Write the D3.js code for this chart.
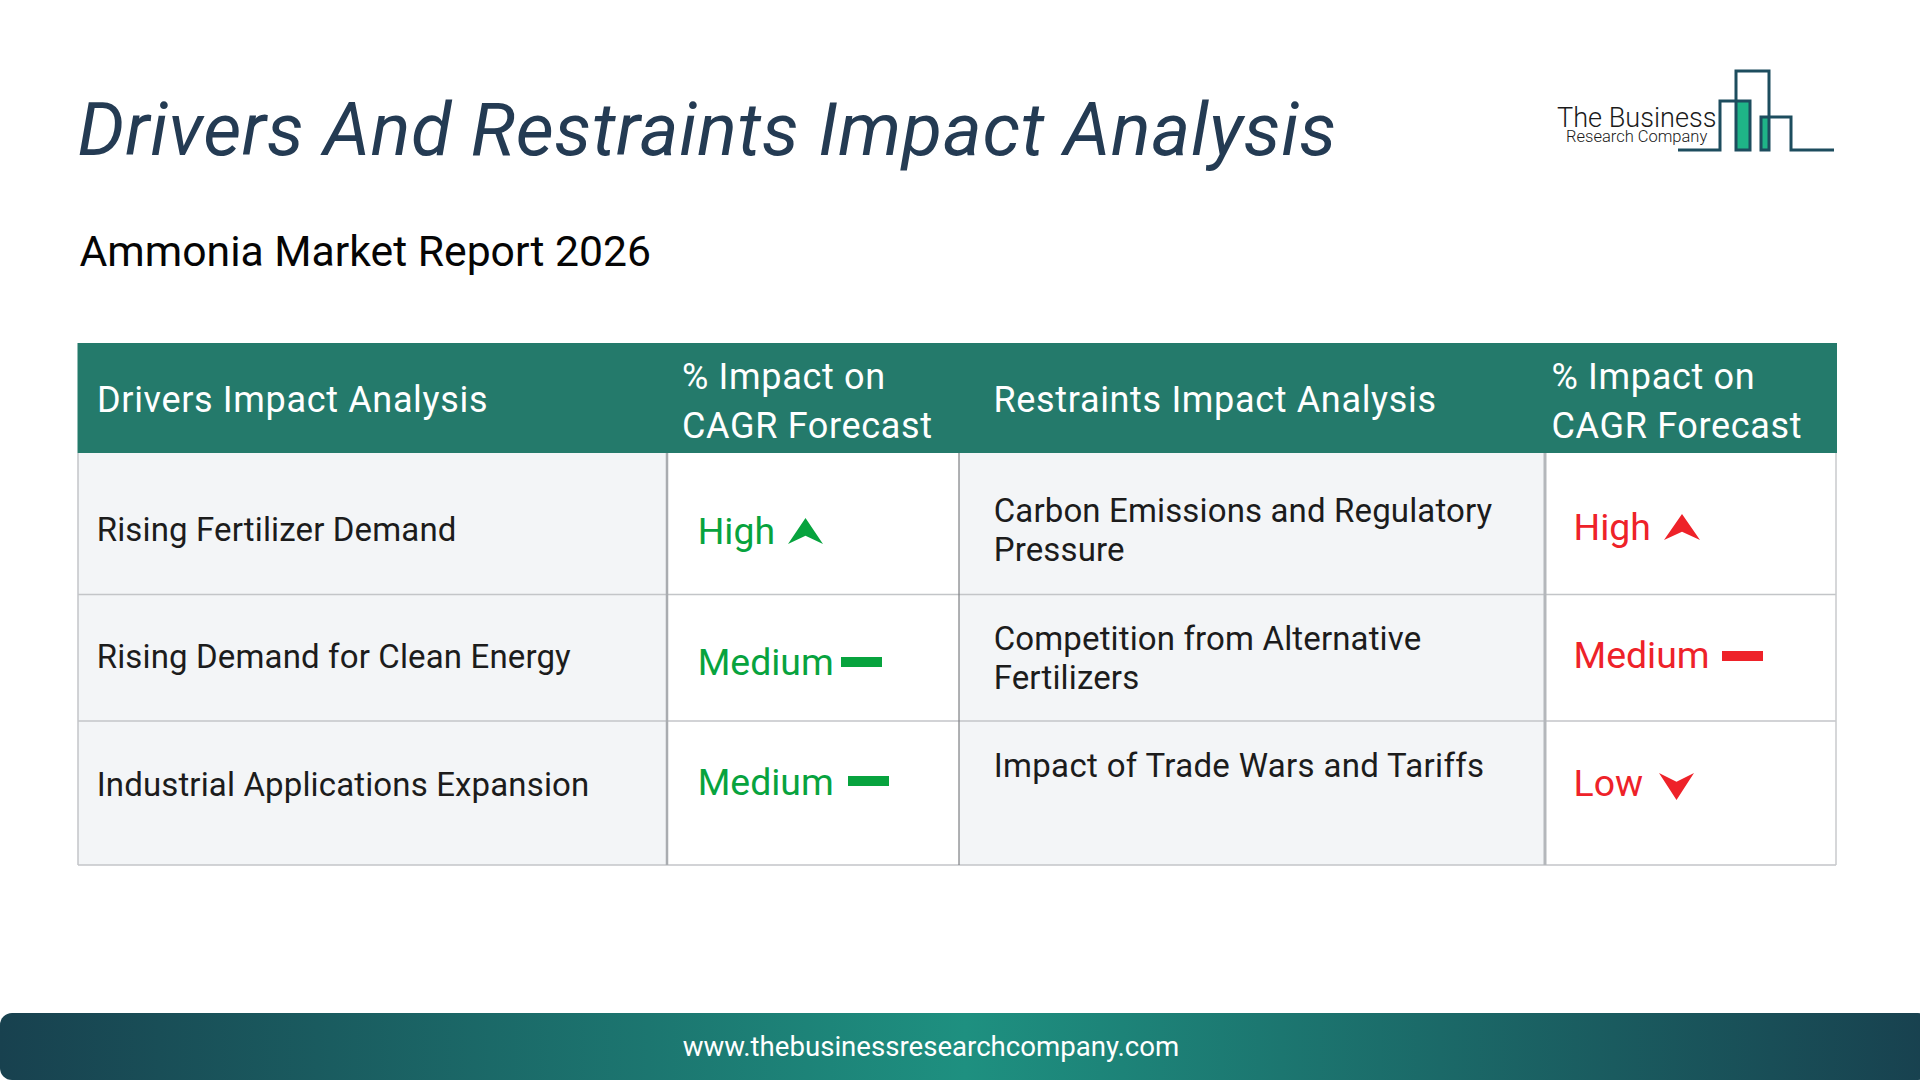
<!DOCTYPE html>
<html>
<head>
<meta charset="utf-8">
<title>Drivers And Restraints Impact Analysis</title>
<script src="https://cdn.jsdelivr.net/npm/d3@7"></script>
<style>
  html, body { margin: 0; padding: 0; background: #fff; overflow: hidden; }
  text { font-family: Roboto, sans-serif; }
</style>
</head>
<body>
<svg id="chart" width="1920" height="1080"></svg>
<script>
// chart content
var titleText = "Drivers And Restraints Impact Analysis";
var subtitleText = "Ammonia Market Report 2026";
var footerText = "www.thebusinessresearchcompany.com";
var headerLabels = [
  ["Drivers Impact Analysis"],
  ["% Impact on", "CAGR Forecast"],
  ["Restraints Impact Analysis"],
  ["% Impact on", "CAGR Forecast"]
];
var driverNames = [
  ["Rising Fertilizer Demand"],
  ["Rising Demand for Clean Energy"],
  ["Industrial Applications Expansion"]
];
var restraintNames = [
  ["Carbon Emissions and Regulatory", "Pressure"],
  ["Competition from Alternative", "Fertilizers"],
  ["Impact of Trade Wars and Tariffs"]
];
var driverImpacts = ["High", "Medium", "Medium"];
var restraintImpacts = ["High", "Medium", "Low"];

var svg = d3.select("#chart");

// table layout
var columnEdges = [78, 667, 959, 1545, 1836];
var rowEdges = [453, 594.5, 721, 865];
var headerTop = 343;
var rows = d3.range(3);
var green = "#07a33e";
var red = "#ee2229";

// impact marks in unit space, scaled per cell
var marks = {
  High: "M0.5,0 L1,1 L0.5,0.68 L0,1 Z",
  Low: "M0,0 L0.5,0.32 L1,0 L0.5,1 Z",
  Medium: "M0,0 H1 V1 H0 Z"
};

// per cell placement: text baseline, then mark box
var driverCells = [
  { baseline: 544, box: [788, 518, 35, 26] },
  { baseline: 674.5, box: [841, 657, 41, 10] },
  { baseline: 794.5, box: [848, 776, 41, 10] }
];
var restraintCells = [
  { baseline: 539.5, box: [1664, 514, 36, 26] },
  { baseline: 668, box: [1722, 651, 41, 10] },
  { baseline: 795.5, box: [1659, 773, 35, 27] }
];
var driverBaselines = [541, 668, 796];
var restraintBaselines = [[522, 561], [650, 689], [777]];
var restraintSpacing = [0.14, 0.14, 0.33];

// cell backgrounds
[0, 2].forEach(function (c) {
  svg.append("g").selectAll("rect").data(rows).enter().append("rect")
    .attr("x", columnEdges[c])
    .attr("y", function (r) { return rowEdges[r]; })
    .attr("width", columnEdges[c + 1] - columnEdges[c])
    .attr("height", function (r) { return rowEdges[r + 1] - rowEdges[r]; })
    .attr("fill", "#f3f5f7");
});

// grid lines
svg.append("g").selectAll("line").data(rowEdges.slice(1)).enter().append("line")
  .attr("x1", columnEdges[0])
  .attr("x2", columnEdges[4])
  .attr("y1", function (d) { return d; })
  .attr("y2", function (d) { return d; })
  .attr("stroke", "#c3c5c8")
  .attr("stroke-width", 1.5);

var verticals = [
  { x: columnEdges[0], color: "#c3c5c8", w: 1.5 },
  { x: columnEdges[1], color: "#a9acb0", w: 2.5 },
  { x: columnEdges[2], color: "#7d7f82", w: 1.2 },
  { x: columnEdges[3], color: "#b4b7bb", w: 3 },
  { x: columnEdges[4], color: "#c8cacc", w: 1.5 }
];
svg.append("g").selectAll("line").data(verticals).enter().append("line")
  .attr("x1", function (d) { return d.x; })
  .attr("x2", function (d) { return d.x; })
  .attr("y1", rowEdges[0])
  .attr("y2", rowEdges[3])
  .attr("stroke", function (d) { return d.color; })
  .attr("stroke-width", function (d) { return d.w; });

// header band
svg.append("rect")
  .attr("x", columnEdges[0] - 0.5)
  .attr("y", headerTop)
  .attr("width", columnEdges[4] - columnEdges[0] + 1.5)
  .attr("height", rowEdges[0] - headerTop)
  .attr("fill", "#247a6b");

var headerX = [97, 682, 993.5, 1551.5];
headerLabels.forEach(function (lines, c) {
  var base = lines.length == 1 ? [412] : [389, 438];
  svg.append("g").selectAll("text").data(lines).enter().append("text")
    .attr("x", headerX[c])
    .attr("y", function (d, i) { return base[i]; })
    .attr("font-size", 36)
    .attr("letter-spacing", 0.66)
    .attr("fill", "#fff")
    .text(function (d) { return d; });
});

// name columns
driverNames.forEach(function (lines, r) {
  svg.append("text")
    .attr("x", 96.7)
    .attr("y", driverBaselines[r])
    .attr("font-size", 33)
    .attr("letter-spacing", 0.14)
    .attr("fill", "#1c1c1c")
    .text(lines[0]);
});
restraintNames.forEach(function (lines, r) {
  svg.append("g").selectAll("text").data(lines).enter().append("text")
    .attr("x", 993.7)
    .attr("y", function (d, i) { return restraintBaselines[r][i]; })
    .attr("font-size", 33)
    .attr("letter-spacing", restraintSpacing[r])
    .attr("fill", "#1c1c1c")
    .text(function (d) { return d; });
});

// impact columns
function drawImpacts(impacts, cells, x, color) {
  var g = svg.append("g");
  g.selectAll("text").data(impacts).enter().append("text")
    .attr("x", x)
    .attr("y", function (d, i) { return cells[i].baseline; })
    .attr("font-size", 37.4)
    .attr("fill", color)
    .text(function (d) { return d; });
  g.selectAll("path").data(impacts).enter().append("path")
    .attr("d", function (d) { return marks[d]; })
    .attr("transform", function (d, i) {
      var b = cells[i].box;
      return "translate(" + b[0] + "," + b[1] + ") scale(" + b[2] + "," + b[3] + ")";
    })
    .attr("fill", color);
}
drawImpacts(driverImpacts, driverCells, 697.7, green);
drawImpacts(restraintImpacts, restraintCells, 1573.5, red);

// title block
svg.append("text")
  .attr("x", 77.5)
  .attr("y", 155)
  .attr("font-size", 74)
  .attr("font-style", "italic")
  .attr("letter-spacing", 0.62)
  .attr("fill", "#243b53")
  .text(titleText);
svg.append("text")
  .attr("x", 79.5)
  .attr("y", 266)
  .attr("font-size", 42.7)
  .attr("fill", "#050505")
  .text(subtitleText);

// logo
var logo = svg.append("g");
logo.append("rect").attr("x", 1737).attr("y", 101).attr("width", 13).attr("height", 49).attr("fill", "#1fb487");
logo.append("rect").attr("x", 1762).attr("y", 117).attr("width", 7).attr("height", 33).attr("fill", "#1fb487");
logo.append("path")
  .attr("d", "M1678,150 H1720 V101 H1750 V150 H1736 V71 H1769 V150 H1761 V117 H1791 V150 H1834")
  .attr("fill", "none")
  .attr("stroke", "#1d4d5e")
  .attr("stroke-width", 3);
logo.append("text")
  .attr("x", 1557).attr("y", 127)
  .attr("font-family", "Lato").attr("font-weight", 300)
  .attr("font-size", 27.1).attr("fill", "#1a1a1a")
  .text("The Business");
logo.append("text")
  .attr("x", 1566).attr("y", 142)
  .attr("font-family", "Lato").attr("font-weight", 300)
  .attr("font-size", 16.5).attr("fill", "#1a1a1a")
  .text("Research Company");

// footer band
var grad = svg.append("defs").append("linearGradient").attr("id", "footerFill");
grad.append("stop").attr("offset", "0%").attr("stop-color", "#18414f");
grad.append("stop").attr("offset", "50%").attr("stop-color", "#1e9080");
grad.append("stop").attr("offset", "100%").attr("stop-color", "#18414f");
svg.append("rect")
  .attr("x", 0).attr("y", 1013)
  .attr("width", 1930).attr("height", 67)
  .attr("rx", 12)
  .attr("fill", "url(#footerFill)");
svg.append("text")
  .attr("x", 931).attr("y", 1056)
  .attr("text-anchor", "middle")
  .attr("font-size", 27.6)
  .attr("fill", "#fff")
  .text(footerText);
</script>
</body>
</html>
